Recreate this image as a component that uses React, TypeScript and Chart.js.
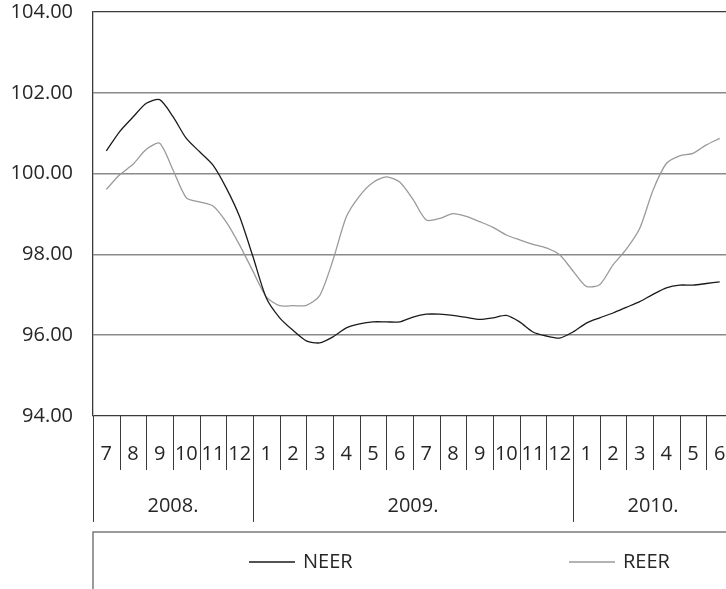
import React, { useEffect, useRef } from 'react';
import { Chart, registerables } from 'chart.js';

Chart.register(...registerables);

// Month tick labels (Jul 2008 .. Jun 2010)
const MONTHS = ['7', '8', '9', '10', '11', '12', '1', '2', '3', '4', '5', '6', '7', '8', '9', '10', '11', '12', '1', '2', '3', '4', '5', '6'];
// Year group labels and how many months each group spans
const YEAR_LABELS = ['2008.', '2009.', '2010.'];
const YEAR_MONTH_COUNTS = [6, 12, 6];
// Y axis
const Y_MIN = 94;
const Y_MAX = 104;
const Y_STEP = 2;
// Series sampled every half month, starting at the middle of Jul 2008
const SAMPLE_STEP = 0.5;
const NEER = [
  100.56, 101.04, 101.4, 101.74, 101.83, 101.41, 100.87, 100.54, 100.21, 99.64,
  98.93, 97.94, 96.92, 96.43, 96.12, 95.86, 95.81, 95.96, 96.18, 96.28,
  96.33, 96.33, 96.33, 96.45, 96.52, 96.52, 96.49, 96.44, 96.39, 96.43,
  96.49, 96.33, 96.08, 95.98, 95.93, 96.08, 96.3, 96.43, 96.55, 96.69,
  96.83, 97.01, 97.17, 97.24, 97.24, 97.28, 97.32,
];
const REER = [
  99.61, 99.97, 100.23, 100.6, 100.75, 100.09, 99.4, 99.3, 99.2, 98.8,
  98.23, 97.58, 96.95, 96.73, 96.73, 96.74, 96.98, 97.86, 98.93, 99.45,
  99.78, 99.92, 99.79, 99.36, 98.85, 98.89, 99.01, 98.94, 98.81, 98.67,
  98.48, 98.36, 98.25, 98.16, 97.99, 97.59, 97.21, 97.25, 97.74, 98.13,
  98.64, 99.59, 100.25, 100.44, 100.5, 100.71, 100.87,
];
const SERIES_NAMES = ['NEER', 'REER'];
const SERIES_COLORS = ['#1a1a1a', '#9a9a9a'];

const FONT_FAMILY = '"Open Sans", "DejaVu Sans", sans-serif';
const FONT_SIZE = 20;
const TEXT_COLOR = '#262626';
const AXIS_COLOR = '#3a3a3a';
const GRID_COLOR = '#8a8a8a';

const toPoints = (arr: number[]) => arr.map((v, i) => ({ x: i * SAMPLE_STEP, y: v }));

const groupAxisPlugin = {
  id: 'groupAxis',
  afterDraw(chart: any) {
    const { ctx, chartArea, scales } = chart;
    const xs = scales.x;
    const left = chartArea.left;
    const right = chartArea.right;
    const bottom = chartArea.bottom;
    const monthRowH = 54;
    const yearRowH = 52;
    const rowGap = 10;
    const edge = (k: number) => xs.getPixelForValue(k - 0.5);

    ctx.save();
    ctx.font = `${FONT_SIZE}px ${FONT_FAMILY}`;
    ctx.fillStyle = TEXT_COLOR;
    ctx.textAlign = 'center';
    ctx.textBaseline = 'middle';

    // Month row separators and labels
    ctx.strokeStyle = AXIS_COLOR;
    ctx.lineWidth = 1;
    for (let k = 0; k <= MONTHS.length; k++) {
      const x = Math.round(edge(k)) + 0.5;
      ctx.beginPath();
      ctx.moveTo(x, bottom);
      ctx.lineTo(x, bottom + monthRowH);
      ctx.stroke();
    }
    MONTHS.forEach((m, k) => {
      ctx.fillText(m, xs.getPixelForValue(k), bottom + monthRowH * 0.7);
    });

    // Year row
    let start = 0;
    const yTop = bottom + monthRowH;
    YEAR_LABELS.forEach((label, gi) => {
      const end = start + YEAR_MONTH_COUNTS[gi];
      const x0 = Math.round(edge(start)) + 0.5;
      ctx.beginPath();
      ctx.moveTo(x0, yTop);
      ctx.lineTo(x0, yTop + yearRowH);
      ctx.stroke();
      ctx.fillText(label, (edge(start) + edge(end)) / 2, yTop + yearRowH * 0.7);
      start = end;
    });
    const xe = Math.round(edge(start)) + 0.5;
    ctx.beginPath();
    ctx.moveTo(xe, yTop);
    ctx.lineTo(xe, yTop + yearRowH);
    ctx.stroke();

    // Legend box
    const boxTop = yTop + yearRowH + rowGap;
    ctx.strokeStyle = '#7a7a7a';
    ctx.lineWidth = 1.5;
    ctx.beginPath();
    ctx.moveTo(left, chart.height);
    ctx.lineTo(left, boxTop);
    ctx.lineTo(chart.width, boxTop);
    ctx.stroke();

    const w = right - left;
    const ly = boxTop + 30;
    ctx.textAlign = 'left';
    chart.data.datasets.forEach((ds: any, i: number) => {
      const sx = left + ((i + 0.5) * w) / 2 - 4;
      ctx.strokeStyle = ds.borderColor;
      ctx.lineWidth = 1.3;
      ctx.beginPath();
      ctx.moveTo(sx, ly);
      ctx.lineTo(sx + 46, ly);
      ctx.stroke();
      ctx.fillStyle = TEXT_COLOR;
      ctx.fillText(ds.label, sx + 54, ly);
    });
    ctx.restore();
  },
};

export default function App() {
  const ref = useRef<HTMLCanvasElement | null>(null);

  useEffect(() => {
    if (!ref.current) return;
    const chart = new Chart(ref.current, {
      type: 'line',
      data: {
        datasets: [NEER, REER].map((arr, i) => ({
          label: SERIES_NAMES[i],
          data: toPoints(arr),
          borderColor: SERIES_COLORS[i],
          backgroundColor: SERIES_COLORS[i],
          borderWidth: 1.3,
          pointRadius: 0,
          tension: 0.25,
          fill: false,
        })),
      },
      options: {
        animation: false,
        responsive: false,
        layout: { padding: { top: 12, right: 8, bottom: 173, left: 0 } },
        plugins: { legend: { display: false }, tooltip: { enabled: false } },
        scales: {
          x: {
            type: 'linear',
            min: -0.5,
            max: MONTHS.length - 0.5,
            display: false,
          },
          y: {
            min: Y_MIN,
            max: Y_MAX,
            afterFit: (s: any) => {
              s.width = 93;
              s.paddingTop = 0;
              s.paddingBottom = 0;
            },
            ticks: {
              stepSize: Y_STEP,
              padding: 20,
              color: TEXT_COLOR,
              font: { family: FONT_FAMILY, size: FONT_SIZE },
              callback: (v: any) => Number(v).toFixed(2),
            },
            grid: {
              drawTicks: false,
              color: (c: any) =>
                c.tick && (c.tick.value === Y_MIN || c.tick.value === Y_MAX) ? AXIS_COLOR : GRID_COLOR,
              lineWidth: (c: any) =>
                c.tick && (c.tick.value === Y_MIN || c.tick.value === Y_MAX) ? 1.3 : 1.6,
            },
            border: { display: true, color: AXIS_COLOR, width: 1.3 },
          },
        },
      },
      plugins: [groupAxisPlugin],
    });
    return () => chart.destroy();
  }, []);

  return (
    <div
      style={{
        position: 'fixed',
        left: 0,
        top: 0,
        width: 726,
        height: 589,
        overflow: 'hidden',
        background: '#fff',
      }}
    >
      <canvas ref={ref} width={741} height={589} style={{ display: 'block', width: 741, height: 589 }} />
    </div>
  );
}
